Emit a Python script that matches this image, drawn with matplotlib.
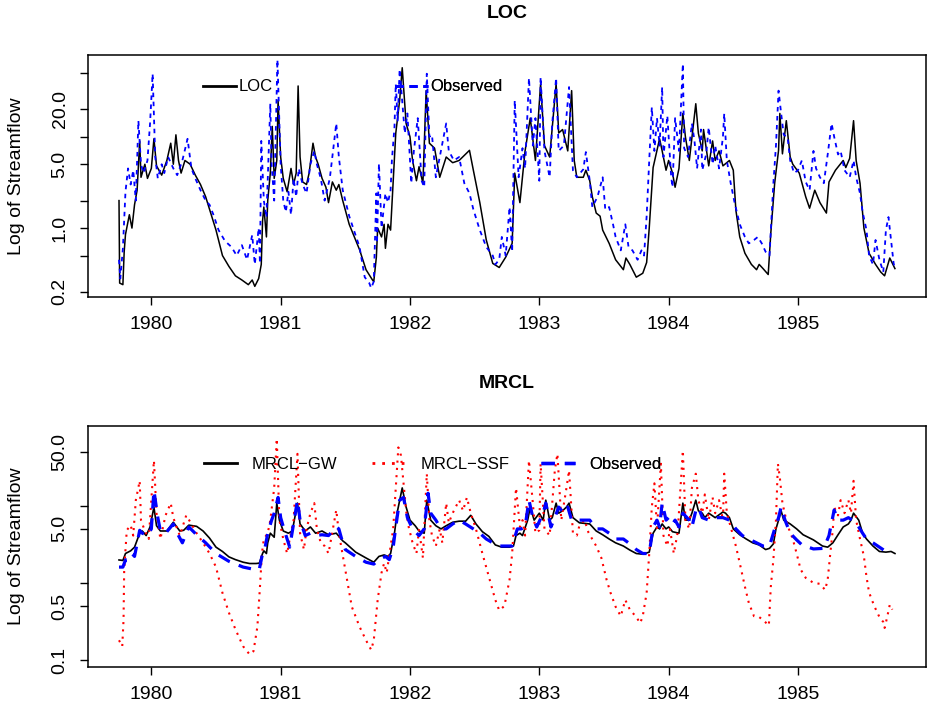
import matplotlib
matplotlib.use("Agg")
import matplotlib.pyplot as plt
from matplotlib.lines import Line2D

plt.rcParams['font.family'] = ['Liberation Sans', 'DejaVu Sans']

# ---- LOC panel: simulated (LOC) and observed streamflow ----
loc_year = [1979.750, 1979.755, 1979.78, 1979.79, 1979.80, 1979.83, 1979.85, 1979.87, 1979.89, 1979.91,
            1979.92, 1979.95, 1979.97, 1980.00, 1980.02, 1980.04, 1980.08, 1980.12, 1980.15, 1980.17,
            1980.19, 1980.21, 1980.23, 1980.26, 1980.30, 1980.34, 1980.38, 1980.42, 1980.45, 1980.50,
            1980.55, 1980.60, 1980.65, 1980.70, 1980.75, 1980.78, 1980.80, 1980.83, 1980.85, 1980.86,
            1980.87, 1980.89, 1980.90, 1980.92, 1980.935, 1980.95, 1980.97, 1980.98, 1981.00, 1981.02,
            1981.05, 1981.08, 1981.10, 1981.12, 1981.135, 1981.15, 1981.17, 1981.20, 1981.22, 1981.25,
            1981.27, 1981.29, 1981.32, 1981.35, 1981.37, 1981.40, 1981.43, 1981.45, 1981.48, 1981.53,
            1981.61, 1981.66, 1981.71, 1981.72, 1981.74, 1981.75, 1981.78, 1981.80, 1981.81, 1981.83,
            1981.85, 1981.87, 1981.89, 1981.92, 1981.94, 1981.97, 1982.00, 1982.02, 1982.05, 1982.07,
            1982.10, 1982.125, 1982.15, 1982.19, 1982.23, 1982.28, 1982.33, 1982.38, 1982.46, 1982.49,
            1982.54, 1982.59, 1982.64, 1982.69, 1982.74, 1982.79, 1982.81, 1982.85, 1982.89, 1982.93,
            1982.97, 1983.01, 1983.04, 1983.08, 1983.13, 1983.15, 1983.18, 1983.22, 1983.25, 1983.27,
            1983.29, 1983.34, 1983.36, 1983.39, 1983.41, 1983.44, 1983.47, 1983.49, 1983.54, 1983.59,
            1983.65, 1983.67, 1983.70, 1983.75, 1983.80, 1983.83, 1983.85, 1983.88, 1983.91, 1983.93,
            1983.95, 1983.98, 1984.00, 1984.03, 1984.05, 1984.08, 1984.11, 1984.13, 1984.16, 1984.21,
            1984.23, 1984.26, 1984.27, 1984.31, 1984.34, 1984.36, 1984.39, 1984.42, 1984.47, 1984.50,
            1984.51, 1984.52, 1984.55, 1984.59, 1984.64, 1984.68, 1984.70, 1984.73, 1984.77, 1984.79,
            1984.82, 1984.85, 1984.86, 1984.88, 1984.91, 1984.94, 1984.96, 1985.01, 1985.06, 1985.09,
            1985.13, 1985.17, 1985.22, 1985.24, 1985.29, 1985.35, 1985.37, 1985.40, 1985.43, 1985.45,
            1985.48, 1985.51, 1985.55, 1985.60, 1985.64, 1985.67, 1985.71, 1985.75]
loc_flow = [2.0, 0.25, 0.24, 0.55, 0.85, 1.4, 1.0, 1.8, 2.6, 9.0,
            3.6, 5.0, 3.5, 4.5, 9.5, 4.8, 3.8, 5.5, 8.5, 5.0,
            10.5, 5.5, 4.0, 5.5, 5.0, 3.8, 3.0, 2.2, 1.6, 0.95,
            0.5, 0.38, 0.30, 0.27, 0.24, 0.27, 0.23, 0.28, 0.40, 1.2,
            1.7, 0.8, 2.0, 4.0, 13, 3.5, 5.5, 25, 6.0, 3.5,
            2.5, 4.5, 3.0, 4.0, 36, 6.0, 3.2, 3.0, 4.0, 8.5,
            6.0, 5.0, 3.5, 2.8, 1.9, 3.2, 2.6, 3.0, 2.0, 1.1,
            0.58, 0.35, 0.27, 0.26, 0.48, 1.0, 0.8, 1.1, 0.6, 1.1,
            0.95, 3.3, 10.9, 25, 57, 14, 10, 5.5, 3.3, 4.7,
            3.1, 32, 8.5, 7.5, 3.6, 6.0, 5.2, 5.5, 7.1, 4.3,
            1.9, 0.74, 0.41, 0.37, 0.48, 0.68, 4.0, 1.9, 7.0, 16,
            5.5, 38, 8, 6, 38, 11, 12, 7, 32, 5.5,
            3.6, 3.6, 4.3, 3.3, 2.2, 1.46, 1.35, 0.95, 0.68, 0.45,
            0.35, 0.47, 0.40, 0.29, 0.32, 0.42, 1.0, 4.6, 7.1, 9.5,
            7.0, 4.3, 5.5, 4.0, 2.8, 4.5, 18, 9.9, 5.5, 23,
            10.9, 7, 12, 4.8, 9, 5.5, 7, 4.8, 5.5, 4.3,
            2.6, 1.57, 0.8, 0.53, 0.40, 0.35, 0.40, 0.36, 0.31, 0.88,
            3.1, 7.1, 18, 6.5, 15, 6.0, 5.0, 4.0, 2.2, 1.65,
            2.6, 1.9, 1.46, 3.2, 4.3, 5.5, 4.6, 5.8, 15, 5.5,
            3.1, 1.0, 0.53, 0.40, 0.33, 0.30, 0.47, 0.36]

obs1_year = [1979.750, 1979.76, 1979.78, 1979.80, 1979.82, 1979.84, 1979.86, 1979.88, 1979.90, 1979.92,
             1979.94, 1979.97, 1979.99, 1980.01, 1980.03, 1980.05, 1980.08, 1980.10, 1980.13, 1980.17,
             1980.20, 1980.24, 1980.28, 1980.31, 1980.34, 1980.38, 1980.42, 1980.45, 1980.48, 1980.52,
             1980.57, 1980.62, 1980.66, 1980.70, 1980.74, 1980.78, 1980.80, 1980.83, 1980.84, 1980.85,
             1980.87, 1980.89, 1980.92, 1980.93, 1980.95, 1980.975, 1981.00, 1981.02, 1981.04, 1981.06,
             1981.08, 1981.10, 1981.12, 1981.14, 1981.17, 1981.20, 1981.23, 1981.26, 1981.28, 1981.31,
             1981.34, 1981.38, 1981.43, 1981.45, 1981.48, 1981.53, 1981.61, 1981.65, 1981.685, 1981.70,
             1981.72, 1981.74, 1981.745, 1981.76, 1981.78, 1981.81, 1981.83, 1981.85, 1981.86, 1981.88,
             1981.89, 1981.905, 1981.92, 1981.96, 1981.98, 1982.01, 1982.03, 1982.06, 1982.09, 1982.11,
             1982.13, 1982.15, 1982.17, 1982.20, 1982.23, 1982.28, 1982.30, 1982.34, 1982.38, 1982.42,
             1982.46, 1982.49, 1982.54, 1982.59, 1982.64, 1982.66, 1982.69, 1982.71, 1982.74, 1982.77,
             1982.79, 1982.81, 1982.84, 1982.87, 1982.89, 1982.92, 1982.95, 1982.97, 1983.00, 1983.01,
             1983.04, 1983.08, 1983.10, 1983.13, 1983.15, 1983.19, 1983.23, 1983.26, 1983.29, 1983.34,
             1983.36, 1983.39, 1983.41, 1983.45, 1983.49, 1983.51, 1983.54, 1983.57, 1983.59, 1983.63,
             1983.665, 1983.69, 1983.72, 1983.76, 1983.79, 1983.81, 1983.83, 1983.85, 1983.87, 1983.89,
             1983.91, 1983.93, 1983.95, 1983.96, 1983.99, 1984.02, 1984.03, 1984.05, 1984.08, 1984.11,
             1984.12, 1984.15, 1984.18, 1984.20, 1984.22, 1984.25, 1984.26, 1984.29, 1984.31, 1984.34,
             1984.36, 1984.39, 1984.42, 1984.43, 1984.45, 1984.48, 1984.51, 1984.55, 1984.59, 1984.62,
             1984.66, 1984.69, 1984.72, 1984.75, 1984.78, 1984.80, 1984.81, 1984.83, 1984.85, 1984.87,
             1984.89, 1984.92, 1984.94, 1984.97, 1985.00, 1985.03, 1985.06, 1985.09, 1985.12, 1985.14,
             1985.17, 1985.20, 1985.23, 1985.26, 1985.28, 1985.31, 1985.33, 1985.36, 1985.40, 1985.43,
             1985.45, 1985.48, 1985.50, 1985.53, 1985.55, 1985.58, 1985.60, 1985.63, 1985.66, 1985.68,
             1985.70, 1985.72, 1985.74, 1985.75]
obs1_flow = [0.45, 0.28, 0.6, 2.5, 4.5, 3.0, 4.3, 2.0, 15, 5.0,
             4.0, 5.5, 14, 49, 6.0, 3.5, 5.0, 4.0, 6.0, 4.5,
             3.8, 5.5, 9.5, 4.5, 3.5, 2.6, 2.0, 1.8, 1.4, 0.95,
             0.72, 0.62, 0.50, 0.65, 0.45, 0.84, 0.40, 1.0, 0.41, 9.0,
             2.0, 1.3, 23, 5.0, 2.0, 70, 5.0, 2.0, 1.5, 2.5,
             1.4, 3.5, 2.2, 4.5, 3.0, 2.4, 5.0, 7.0, 5.0, 3.5,
             2.0, 3.5, 14, 6.0, 2.6, 1.35, 0.62, 0.29, 0.25, 0.22,
             0.26, 2.4, 0.68, 5.1, 1.0, 2.4, 1.9, 2.6, 5.5, 12.7,
             38, 15, 55, 10.9, 18, 3.1, 7.0, 16, 3.3, 2.8,
             49, 10, 10.5, 3.6, 6.0, 14, 7.0, 5.5, 6.0, 3.1,
             2.4, 1.6, 0.95, 0.62, 0.50, 0.40, 0.45, 0.8, 0.50, 1.7,
             0.55, 25, 3.6, 7.5, 4.5, 44, 8.0, 16, 3.3, 45,
             7.0, 3.6, 14, 44, 7.0, 8.0, 35, 4.3, 3.6, 4.4,
             6.8, 3.3, 1.7, 2.2, 3.6, 1.6, 1.7, 1.1, 0.8, 0.57,
             1.1, 0.62, 0.57, 0.45, 0.57, 0.50, 1.35, 5.5, 21, 7.0,
             16, 8.0, 35, 6.0, 17, 3.6, 2.8, 16, 7.0, 63,
             7.5, 6.0, 14, 9.0, 4.5, 12, 4.3, 6.4, 12.7, 5.0,
             8.0, 4.5, 10, 18, 5.5, 3.1, 1.9, 1.1, 0.8, 0.68,
             0.74, 0.8, 0.68, 0.55, 0.50, 1.7, 3.1, 8.0, 32, 18,
             10.5, 9.9, 5.5, 4.0, 4.3, 5.5, 3.2, 2.6, 7.0, 4.5,
             3.6, 3.1, 6.4, 14, 10, 6.4, 7.0, 4.3, 3.6, 5.5,
             3.6, 2.4, 1.5, 0.95, 0.50, 0.40, 0.74, 0.45, 0.33, 0.95,
             1.32, 0.74, 0.41, 0.36]

# ---- MRCL panel ----
gw_year = [1979.75, 1979.78, 1979.80, 1979.84, 1979.87, 1979.91, 1979.93, 1979.96, 1979.99, 1980.02,
           1980.04, 1980.07, 1980.12, 1980.17, 1980.22, 1980.25, 1980.29, 1980.35, 1980.40, 1980.45,
           1980.50, 1980.55, 1980.60, 1980.65, 1980.71, 1980.76, 1980.81, 1980.835, 1980.86, 1980.87,
           1980.89, 1980.90, 1980.92, 1980.95, 1980.97, 1980.99, 1981.02, 1981.06, 1981.09, 1981.13,
           1981.15, 1981.19, 1981.23, 1981.27, 1981.32, 1981.37, 1981.43, 1981.48, 1981.50, 1981.58,
           1981.66, 1981.72, 1981.76, 1981.80, 1981.83, 1981.85, 1981.88, 1981.90, 1981.94, 1981.97,
           1982.00, 1982.04, 1982.07, 1982.11, 1982.13, 1982.16, 1982.20, 1982.24, 1982.28, 1982.33,
           1982.38, 1982.43, 1982.47, 1982.51, 1982.56, 1982.61, 1982.66, 1982.71, 1982.77, 1982.80,
           1982.82, 1982.85, 1982.87, 1982.91, 1982.93, 1982.96, 1983.00, 1983.03, 1983.05, 1983.08,
           1983.10, 1983.13, 1983.15, 1983.18, 1983.21, 1983.23, 1983.26, 1983.31, 1983.39, 1983.44,
           1983.49, 1983.54, 1983.59, 1983.65, 1983.70, 1983.75, 1983.80, 1983.85, 1983.88, 1983.91,
           1983.93, 1983.95, 1983.98, 1984.00, 1984.03, 1984.08, 1984.11, 1984.13, 1984.16, 1984.18,
           1984.21, 1984.23, 1984.26, 1984.28, 1984.31, 1984.36, 1984.42, 1984.44, 1984.47, 1984.50,
           1984.55, 1984.60, 1984.65, 1984.70, 1984.75, 1984.78, 1984.81, 1984.83, 1984.85, 1984.87,
           1984.89, 1984.94, 1984.99, 1985.04, 1985.12, 1985.19, 1985.23, 1985.27, 1985.31, 1985.35,
           1985.39, 1985.41, 1985.43, 1985.47, 1985.50, 1985.53, 1985.58, 1985.63, 1985.68, 1985.72,
           1985.75]
gw_flow = [1.98, 1.95, 2.4, 2.6, 2.9, 4.4, 4.7, 4.1, 5.3, 9.6,
           5.5, 4.7, 4.7, 6.1, 4.7, 4.8, 5.6, 5.4, 4.7, 3.8,
           2.9, 2.55, 2.17, 2.0, 1.85, 1.78, 1.78, 1.8, 2.4, 2.6,
           2.4, 3.3, 4.4, 3.9, 10.8, 6.5, 4.7, 4.4, 4.7, 10.8,
           5.8, 4.7, 5.3, 4.4, 4.7, 4.2, 4.4, 3.5, 3.3, 2.5,
           2.1, 1.85, 2.2, 2.3, 2.2, 2.4, 4.4, 8.0, 17, 9.6,
           6.5, 5.5, 4.7, 4.4, 11.8, 6.5, 5.5, 5.0, 5.5, 6.1,
           6.3, 6.3, 7.5, 5.8, 4.6, 4.0, 3.1, 2.9, 2.9, 3.0,
           4.1, 4.4, 4.1, 6.5, 9.6, 6.5, 8.0, 6.5, 11.8, 6.5,
           7.0, 10.8, 8.0, 8.6, 9.6, 10.8, 7.0, 6.0, 5.8, 4.7,
           4.2, 3.7, 3.3, 3.0, 2.66, 2.4, 2.35, 2.5, 4.4, 5.3,
           5.0, 5.8, 5.0, 5.3, 4.6, 4.4, 10.8, 6.5, 6.5, 8.0,
           11.8, 8.6, 8.0, 7.0, 8.0, 7.0, 8.3, 8.0, 7.0, 5.0,
           4.2, 3.7, 3.3, 3.1, 2.7, 2.8, 3.2, 5.0, 6.5, 8.6,
           6.5, 5.8, 5.0, 4.2, 3.6, 3.0, 2.9, 3.3, 4.2, 5.3,
           5.8, 6.5, 8.0, 6.5, 4.4, 3.7, 3.0, 2.55, 2.5, 2.55,
           2.4]

ssf_year = [1979.75, 1979.775, 1979.785, 1979.79, 1979.81, 1979.84, 1979.86, 1979.88, 1979.91, 1979.92,
            1979.95, 1979.98, 1980.02, 1980.04, 1980.07, 1980.11, 1980.15, 1980.17, 1980.20, 1980.22,
            1980.27, 1980.31, 1980.35, 1980.40, 1980.45, 1980.50, 1980.55, 1980.60, 1980.65, 1980.71,
            1980.76, 1980.79, 1980.82, 1980.84, 1980.855, 1980.87, 1980.90, 1980.92, 1980.95, 1980.97,
            1980.99, 1981.02, 1981.05, 1981.07, 1981.10, 1981.13, 1981.15, 1981.18, 1981.20, 1981.23,
            1981.26, 1981.28, 1981.31, 1981.34, 1981.37, 1981.43, 1981.45, 1981.50, 1981.55, 1981.61,
            1981.66, 1981.70, 1981.72, 1981.75, 1981.78, 1981.80, 1981.82, 1981.85, 1981.87, 1981.89,
            1981.91, 1981.93, 1981.97, 1981.99, 1982.02, 1982.05, 1982.07, 1982.10, 1982.13, 1982.15,
            1982.17, 1982.20, 1982.23, 1982.25, 1982.28, 1982.30, 1982.33, 1982.38, 1982.41, 1982.44,
            1982.47, 1982.51, 1982.56, 1982.61, 1982.66, 1982.69, 1982.73, 1982.77, 1982.79, 1982.82,
            1982.85, 1982.87, 1982.89, 1982.92, 1982.95, 1982.97, 1983.00, 1983.01, 1983.04, 1983.08,
            1983.12, 1983.14, 1983.17, 1983.21, 1983.23, 1983.26, 1983.29, 1983.31, 1983.35, 1983.38,
            1983.44, 1983.48, 1983.52, 1983.55, 1983.59, 1983.63, 1983.665, 1983.70, 1983.75, 1983.78,
            1983.80, 1983.83, 1983.85, 1983.87, 1983.89, 1983.91, 1983.94, 1983.96, 1983.99, 1984.01,
            1984.04, 1984.07, 1984.11, 1984.13, 1984.16, 1984.18, 1984.21, 1984.23, 1984.26, 1984.28,
            1984.31, 1984.34, 1984.36, 1984.39, 1984.42, 1984.43, 1984.45, 1984.48, 1984.52, 1984.55,
            1984.59, 1984.62, 1984.66, 1984.70, 1984.73, 1984.775, 1984.79, 1984.81, 1984.83, 1984.845,
            1984.86, 1984.88, 1984.91, 1984.93, 1984.96, 1984.99, 1985.02, 1985.06, 1985.12, 1985.17,
            1985.21, 1985.23, 1985.25, 1985.27, 1985.28, 1985.31, 1985.33, 1985.36, 1985.39, 1985.41,
            1985.43, 1985.45, 1985.48, 1985.51, 1985.53, 1985.55, 1985.59, 1985.63, 1985.66, 1985.67,
            1985.69, 1985.71, 1985.73]
ssf_flow = [0.18, 0.15, 0.33, 1.47, 4.8, 5.6, 4.1, 11.8, 21, 6.5,
            4.7, 3.7, 38.6, 8.0, 3.7, 7.5, 10.8, 7.0, 5.0, 4.1,
            7.5, 5.8, 4.4, 3.3, 2.4, 1.6, 0.74, 0.41, 0.25, 0.15,
            0.118, 0.13, 0.27, 0.89, 2.4, 3.7, 4.4, 6.5, 17, 74,
            6.5, 3.7, 2.4, 3.7, 6.5, 47, 4.4, 2.7, 5.0, 8.0,
            10.8, 5.0, 3.3, 3.0, 2.4, 8.8, 4.4, 1.47, 0.49, 0.27,
            0.18, 0.135, 0.18, 0.6, 1.35, 1.8, 1.35, 3.0, 5.0, 17,
            57, 45, 8.6, 5.3, 3.3, 2.4, 5.0, 2.1, 26, 6.5,
            4.1, 3.0, 5.0, 3.3, 10.8, 6.0, 8.0, 11.8, 8.6, 12.8,
            8.0, 5.0, 2.4, 1.2, 0.6, 0.44, 0.5, 1.1, 2.4, 17,
            5.3, 6.5, 4.1, 38.6, 10.8, 4.4, 4.8, 35, 5.0, 4.1,
            28.7, 47, 6.5, 17, 28.7, 4.4, 4.1, 5.5, 6.5, 4.5,
            3.0, 2.1, 1.1, 0.75, 0.49, 0.37, 0.6, 0.45, 0.36, 0.30,
            0.37, 0.74, 2.4, 9.6, 19.5, 5.0, 35, 4.1, 3.0, 5.0,
            2.4, 4.5, 52, 6.5, 5.0, 17, 26, 11.8, 8.0, 14,
            6.5, 12.8, 8.0, 11.8, 6.5, 26, 8.0, 5.3, 3.0, 1.8,
            0.89, 0.55, 0.37, 0.36, 0.33, 0.28, 0.89, 2.0, 6.5, 35,
            23, 10.8, 6.5, 5.0, 3.7, 2.4, 1.5, 1.16, 1.0, 0.97,
            0.81, 1.1, 2.4, 5.0, 9.6, 7.5, 11.8, 8.0, 11.8, 8.0,
            21, 6.5, 3.7, 2.2, 1.2, 0.75, 0.5, 0.36, 0.31, 0.26,
            0.36, 0.52, 0.45]

obs2_year = [1979.75, 1979.78, 1979.80, 1979.82, 1979.85, 1979.87, 1979.91, 1979.93, 1979.97, 1980.00,
             1980.02, 1980.05, 1980.07, 1980.11, 1980.17, 1980.20, 1980.24, 1980.29, 1980.35, 1980.42,
             1980.50, 1980.60, 1980.71, 1980.79, 1980.835, 1980.86, 1980.88, 1980.90, 1980.93, 1980.95,
             1980.98, 1981.00, 1981.03, 1981.05, 1981.07, 1981.13, 1981.15, 1981.19, 1981.23, 1981.27,
             1981.32, 1981.37, 1981.43, 1981.45, 1981.48, 1981.50, 1981.58, 1981.66, 1981.72, 1981.76,
             1981.81, 1981.84, 1981.87, 1981.89, 1981.92, 1981.95, 1981.98, 1982.02, 1982.07, 1982.11,
             1982.14, 1982.16, 1982.20, 1982.24, 1982.28, 1982.33, 1982.38, 1982.43, 1982.49, 1982.54,
             1982.59, 1982.64, 1982.69, 1982.79, 1982.83, 1982.86, 1982.89, 1982.92, 1982.95, 1982.98,
             1983.03, 1983.05, 1983.09, 1983.12, 1983.15, 1983.19, 1983.22, 1983.25, 1983.29, 1983.39,
             1983.44, 1983.49, 1983.54, 1983.59, 1983.65, 1983.70, 1983.75, 1983.80, 1983.85, 1983.88,
             1983.91, 1983.93, 1983.95, 1983.98, 1984.00, 1984.03, 1984.05, 1984.08, 1984.11, 1984.16,
             1984.18, 1984.21, 1984.23, 1984.26, 1984.31, 1984.36, 1984.42, 1984.47, 1984.52, 1984.57,
             1984.62, 1984.68, 1984.73, 1984.78, 1984.82, 1984.85, 1984.87, 1984.90, 1984.94, 1984.99,
             1985.04, 1985.08, 1985.12, 1985.20, 1985.24, 1985.28, 1985.31, 1985.35, 1985.39, 1985.42,
             1985.45, 1985.50, 1985.53, 1985.58, 1985.63, 1985.68, 1985.72]
obs2_flow = [1.6, 1.6, 1.98, 2.0, 2.4, 2.2, 4.8, 4.4, 4.1, 5.0,
             15.8, 7.0, 4.7, 4.4, 5.8, 4.4, 3.3, 5.3, 4.2, 3.3,
             2.4, 1.9, 1.6, 1.5, 1.5, 2.4, 2.9, 4.4, 6.5, 8.0,
             12.8, 7.0, 4.7, 3.7, 2.9, 11.8, 6.5, 4.1, 4.4, 4.1,
             4.2, 4.1, 5.3, 5.0, 3.3, 2.7, 2.2, 1.85, 1.75, 2.0,
             2.2, 2.0, 2.9, 5.3, 11.8, 12.8, 7.0, 5.0, 4.1, 5.0,
             14.5, 8.0, 6.5, 5.0, 5.0, 5.8, 6.5, 5.8, 5.0, 4.4,
             3.7, 3.3, 3.0, 3.0, 5.0, 5.0, 5.3, 11.8, 7.0, 5.3,
             8.0, 10.8, 5.3, 7.0, 9.6, 8.0, 9.6, 6.5, 6.5, 6.5,
             5.0, 5.0, 4.4, 3.7, 3.7, 3.2, 2.7, 2.4, 2.4, 5.3,
             6.5, 5.3, 10.8, 6.5, 7.0, 5.8, 6.5, 5.3, 8.0, 6.5,
             5.3, 8.6, 9.6, 7.0, 6.5, 7.0, 7.0, 6.5, 5.0, 4.1,
             3.7, 3.3, 3.0, 3.0, 5.0, 7.0, 9.6, 6.5, 4.4, 3.6,
             3.0, 2.9, 2.75, 2.8, 4.1, 8.8, 6.5, 6.5, 7.0, 6.5,
             6.0, 4.4, 3.7, 3.3, 2.9, 2.55, 2.55]

year_ticks = [1980, 1981, 1982, 1983, 1984, 1985]
loc_yticks = [0.2, 0.5, 1, 2, 5, 10, 20, 50]
loc_ylabels = ['0.2', '', '1.0', '', '5.0', '', '20.0', '']
mrcl_yticks = [0.1, 0.5, 1, 5, 10, 50]
mrcl_ylabels = ['0.1', '0.5', '', '5.0', '', '50.0']

fig = plt.figure(figsize=(9.27, 7.18), dpi=100)
ax1 = fig.add_axes([0.0949, 0.5864, 0.904, 0.337])
ax2 = fig.add_axes([0.0949, 0.0710, 0.904, 0.3357])

blue = '#0000ff'
red = '#ff0000'

ax1.plot(loc_year, loc_flow, color='black', lw=1.1)
ax1.plot(obs1_year, obs1_flow, color=blue, lw=1.3, dashes=(2.5, 2.5))
ax1.set_ylim(0.176, 78.6)

ax2.plot(gw_year, gw_flow, color='black', lw=1.2)
ax2.plot(ssf_year, ssf_flow, color=red, lw=1.5, linestyle=(0, (1, 2.5)))
ax2.plot(obs2_year, obs2_flow, color=blue, lw=2.3, dashes=(4, 3))
ax2.set_ylim(0.081, 108)

for ax, yt, yl in [(ax1, loc_yticks, loc_ylabels), (ax2, mrcl_yticks, mrcl_ylabels)]:
    ax.set_yscale('log')
    ax.set_xlim(1979.51, 1985.99)
    ax.set_xticks(year_ticks)
    ax.set_xticklabels([str(y) for y in year_ticks], fontsize=14)
    ax.set_yticks(yt)
    ax.set_yticklabels(yl, fontsize=14, rotation=90, va='center')
    ax.minorticks_off()
    ax.tick_params(axis='x', direction='out', length=6, width=1, pad=8)
    ax.tick_params(axis='y', direction='out', length=6, width=1, pad=8)
    for s in ax.spines.values():
        s.set_linewidth(1.1)

fig.text(507 / 927, 1 - 14 / 718, 'LOC', ha='center', va='center', fontsize=14, fontweight='bold')
fig.text(507 / 927, 1 - 383 / 718, 'MRCL', ha='center', va='center', fontsize=14, fontweight='bold')
fig.text(17 / 927, 1 - 176 / 718, 'Log of Streamflow', ha='center', va='center', rotation=90, fontsize=14)
fig.text(17 / 927, 1 - 546 / 718, 'Log of Streamflow', ha='center', va='center', rotation=90, fontsize=14)


def legend_entry(ax, x, y, style, label, hlen, pad):
    h = Line2D([], [], **style)
    leg = ax.legend([h], [label], loc='center left', bbox_to_anchor=(x, y), frameon=False,
                    borderpad=0, borderaxespad=0, handlelength=hlen, handletextpad=pad, fontsize=12)
    ax.add_artist(leg)


legend_entry(ax1, 0.137, 0.868, dict(color='black', lw=2), 'LOC', 2.0, 0.15)
legend_entry(ax1, 0.366, 0.868, dict(color=blue, lw=2, dashes=(3, 2)), 'Observed', 2.0, 0.15)
legend_entry(ax2, 0.138, 0.842, dict(color='black', lw=2), 'MRCL\u2212GW', 2.0, 0.9)
legend_entry(ax2, 0.339, 0.842, dict(color=red, lw=2, linestyle=(0, (1, 2.5))), 'MRCL\u2212SSF', 2.0, 0.9)
legend_entry(ax2, 0.541, 0.842, dict(color=blue, lw=2.4, dashes=(4, 3)), 'Observed', 2.0, 0.9)

fig.savefig('out.png', dpi=100)
